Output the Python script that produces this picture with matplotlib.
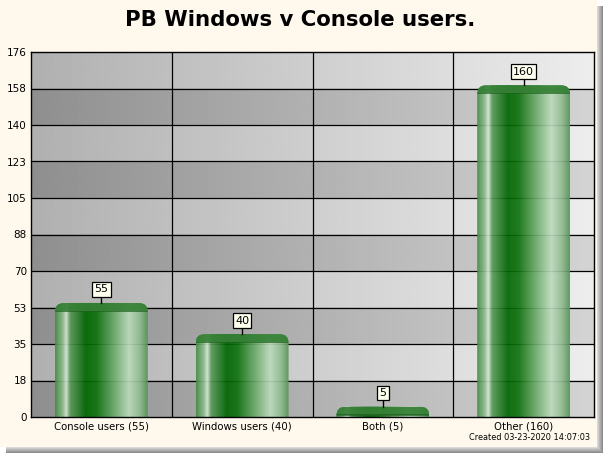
"""PB Windows v Console users - cylinder style bar chart."""

import numpy as np
import matplotlib.pyplot as plt
from matplotlib.patches import Rectangle, FancyBboxPatch
from matplotlib.colors import LinearSegmentedColormap

categories = ['Console users', 'Windows users', 'Both', 'Other']
values = [55, 40, 5, 160]
y_max = 176
y_ticks = [0, 18, 35, 53, 70, 88, 105, 123, 140, 158, 176]
created = 'Created 03-23-2020 14:07:03'

W, H = 603, 453
fig = plt.figure(figsize=(W / 100, H / 100), dpi=100)
fig.patch.set_facecolor('white')

# drop shadow and cream panel
bg = fig.add_axes([0, 0, 1, 1], zorder=-10)
bg.set_xlim(0, W)
bg.set_ylim(H, 0)
bg.axis('off')
for i in range(7):
    g = 0.55 + i * 0.06
    bg.add_patch(Rectangle((6, 6), 597 - i, 447 - i,
                           facecolor=str(min(g, 1)), edgecolor='none'))
bg.add_patch(Rectangle((0, 0), 597, 447, facecolor='#fef9ec', edgecolor='none'))

ax = fig.add_axes([31 / W, (H - 417) / H, 563 / W, 365 / H])
n = len(categories)
ax.set_xlim(0, n)
ax.set_ylim(0, y_max)

# background: horizontal gray gradient with alternating bands
step = y_max / 10
yy = np.linspace(0, y_max, 400)
xx = np.linspace(0, 1, 300)
band = (np.floor(yy / step).astype(int) % 2 == 0)
left = np.where(band, 0.56, 0.69)
right = np.where(band, 0.83, 0.93)
img = left[:, None] + (right - left)[:, None] * xx[None, :]
ax.imshow(img, extent=(0, n, 0, y_max), origin='lower', aspect='auto',
          cmap='gray', vmin=0, vmax=1, zorder=0, interpolation='bilinear')

# grid
for t in np.arange(1, 10) * step:
    ax.axhline(t, color='black', lw=0.9, zorder=1)
for k in range(1, n):
    ax.axvline(k, color='black', lw=0.9, zorder=1)

# cylinder bars
stops = [(0.00, (0.28, 0.55, 0.28)), (0.08, (0.55, 0.74, 0.55)),
         (0.12, (0.84, 0.91, 0.84)), (0.16, (0.35, 0.60, 0.35)),
         (0.33, (0.00, 0.40, 0.00)), (0.45, (0.06, 0.45, 0.06)),
         (0.80, (0.74, 0.86, 0.74)), (0.92, (0.56, 0.73, 0.56)),
         (1.00, (0.34, 0.58, 0.34))]
green = LinearSegmentedColormap.from_list('cyl', stops)
bw = 0.66
px_y = y_max / 365
px_x = 1 / 140.75
rad = 9
for i, v in enumerate(values):
    x0 = i + 0.5 - bw / 2
    clip = FancyBboxPatch((x0, -rad * px_y), bw, v + rad * px_y,
                          boxstyle=f'round,pad=0,rounding_size={rad * px_x}',
                          mutation_aspect=px_y / px_x,
                          facecolor='none', edgecolor='none', transform=ax.transData)
    ax.add_patch(clip)
    im = ax.imshow(np.linspace(0, 1, 200)[None, :], extent=(x0, x0 + bw, -5, v),
                   aspect='auto', cmap=green, alpha=0.92, zorder=2,
                   interpolation='bilinear')
    im.set_clip_path(clip)
    cap = Rectangle((x0, v - 8 * px_y), bw, 8 * px_y, facecolor='#357f35',
                    edgecolor='none', alpha=0.92, zorder=3)
    ax.add_patch(cap)
    cap.set_clip_path(clip)
    edge = Rectangle((x0, v - 9 * px_y), bw, 1.2 * px_y, facecolor='#1f5f1f',
                     edgecolor='none', alpha=0.7, zorder=3)
    ax.add_patch(edge)
    edge.set_clip_path(clip)
    ax.plot([i + 0.5, i + 0.5], [v, v + 6 * px_y], color='black', lw=1, zorder=4)
    ax.text(i + 0.5, v + 13.5 * px_y, str(v), ha='center', va='center', fontsize=8,
            zorder=5, bbox=dict(boxstyle='square,pad=0.2', facecolor='#fffff0',
                                edgecolor='black', lw=0.9))

ax.set_yticks([step * k for k in range(11)])
ax.set_yticklabels([str(t) for t in y_ticks], fontsize=7.5)
ax.set_xticks(np.arange(n) + 0.5)
ax.set_xticklabels([f'{c} ({v})' for c, v in zip(categories, values)], fontsize=7.3)
ax.tick_params(length=0, pad=3)
for s in ax.spines.values():
    s.set_color('black')
    s.set_linewidth(1.0)

fig.text(300 / W, 1 - 20 / H, 'PB Windows v Console users.', ha='center', va='center',
         fontsize=15.3, fontweight='bold')
fig.text(590 / W, 1 - 437 / H, created, ha='right', va='center', fontsize=5.9)

fig.savefig('out.png', dpi=100)
